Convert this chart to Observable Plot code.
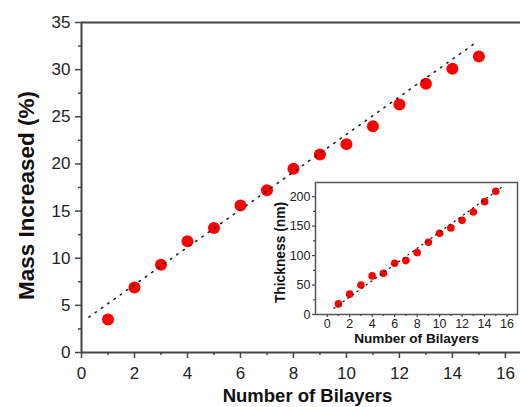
<!DOCTYPE html>
<html><head><meta charset="utf-8">
<script src="https://cdn.jsdelivr.net/npm/d3@7"></script>
<script src="https://cdn.jsdelivr.net/npm/@observablehq/plot@0.6"></script>
<style>
html,body{margin:0;padding:0;background:#fff;}
#wrap{position:relative;width:520px;height:407px;overflow:hidden;background:#fff;}
#main{position:absolute;left:0;top:0;}
#inset{position:absolute;left:262px;top:176px;}
svg{display:block;}
</style></head><body>
<div id="wrap"><div id="main"></div><div id="inset"></div></div>
<script>
// ---- data ----
const bilayers = [1, 2, 3, 4, 5, 6, 7, 8, 9, 10, 11, 12, 13, 14, 15];
const massIncreased = [3.5, 6.9, 9.3, 11.8, 13.2, 15.6, 17.2, 19.5, 21.0, 22.1, 24.0, 26.3, 28.5, 30.1, 31.4];
const thickness = [18, 34.5, 50, 65.5, 70, 87, 91.5, 105, 122.5, 138, 147, 160, 174, 191.5, 209];
const massFitX = [0.28, 14.85];
const massFitY = [3.75, 32.8];
const thickFitX = [0.6, 15.5];
const thickFitY = [10.5, 215.5];
const mainXTicks = [0, 2, 4, 6, 8, 10, 12, 14, 16];
const mainXMinor = [1, 3, 5, 7, 9, 11, 13, 15];
const mainYTicks = [0, 5, 10, 15, 20, 25, 30, 35];
const mainYMinor = [2.5, 7.5, 12.5, 17.5, 22.5, 27.5, 32.5];
const insetXTicks = [0, 2, 4, 6, 8, 10, 12, 14, 16];
const insetXMinor = [1, 3, 5, 7, 9, 11, 13, 15];
const insetYTicks = [0, 50, 100, 150, 200];
const insetYMinor = [25, 75, 125, 175];
const mainXLabel = "Number of Bilayers";
const mainYLabel = "Mass Increased (%)";
const insetXLabel = "Number of Bilayers";
const insetYLabel = "Thickness (nm)";

const FONT = "'Liberation Sans', Arial, Helvetica, sans-serif";
const pts = bilayers.map((b, i) => ({b, m: massIncreased[i], t: thickness[i]}));
const massFit = massFitX.map((x, i) => ({x, y: massFitY[i]}));
const thickFit = thickFitX.map((x, i) => ({x, y: thickFitY[i]}));
const AX = "#444";

const main = Plot.plot({
  width: 520, height: 407,
  marginLeft: 81, marginRight: 0, marginTop: 22, marginBottom: 55,
  style: {fontFamily: FONT, background: "transparent", overflow: "visible"},
  x: {domain: [0, 16.57], label: null},
  y: {domain: [0, 35], label: null},
  marks: [
    Plot.dot(pts, {x: "b", y: "m", r: 6, fill: "#ff0000", stroke: "none"}),
    Plot.line(massFit, {x: "x", y: "y", stroke: "#222", strokeWidth: 1.6, strokeDasharray: "1.4 6.3", strokeLinecap: "round"}),
    Plot.ruleY([0, 35], {stroke: AX, strokeWidth: 2}),
    Plot.ruleX([0], {stroke: AX, strokeWidth: 2}),
    Plot.axisX({ticks: mainXTicks, tickSize: 6, tickPadding: 8, fontSize: 17, stroke: AX, strokeWidth: 1.5, fill: "#222", label: null}),
    Plot.axisX({ticks: mainXMinor, tickSize: 3, tickFormat: () => "", stroke: AX, strokeWidth: 1.5, label: null}),
    Plot.axisY({ticks: mainYTicks, tickSize: 6, tickPadding: 5, fontSize: 17, stroke: AX, strokeWidth: 1.5, fill: "#222", label: null}),
    Plot.axisY({ticks: mainYMinor, tickSize: 3, tickFormat: () => "", stroke: AX, strokeWidth: 1.5, label: null}),
    Plot.text([mainXLabel], {text: d => d, frameAnchor: "bottom", textAnchor: "middle", lineAnchor: "middle", dx: 6.5, dy: 44, fontSize: 18.5, fontWeight: "bold", fill: "#111"}),
    Plot.text([mainYLabel], {text: d => d, frameAnchor: "left", textAnchor: "middle", lineAnchor: "middle", dx: -55, dy: 8, rotate: -90, fontSize: 22.5, fontWeight: "bold", fill: "#111"})
  ]
});
document.getElementById("main").appendChild(main);

const inset = Plot.plot({
  width: 258, height: 172,
  marginLeft: 53, marginRight: 3, marginTop: 6, marginBottom: 34,
  style: {fontFamily: FONT, background: "transparent", overflow: "visible"},
  x: {domain: [-1.04, 16.93], label: null},
  y: {domain: [0, 224], label: null},
  marks: [
    Plot.frame({stroke: "#555", strokeWidth: 1.5}),
    Plot.dot(pts, {x: "b", y: "t", r: 3.8, fill: "#ff0000", stroke: "none"}),
    Plot.line(thickFit, {x: "x", y: "y", stroke: "#222", strokeWidth: 1.3, strokeDasharray: "1.2 4.5", strokeLinecap: "round"}),
    Plot.axisX({ticks: insetXTicks, tickSize: 3, tickPadding: 2, fontSize: 12.5, stroke: AX, strokeWidth: 1.2, fill: "#222", label: null}),
    Plot.axisX({ticks: insetXMinor, tickSize: 2, tickFormat: () => "", stroke: AX, strokeWidth: 1.2, label: null}),
    Plot.axisY({ticks: insetYTicks, tickSize: 3, tickPadding: 2, fontSize: 12.5, stroke: AX, strokeWidth: 1.2, fill: "#222", label: null}),
    Plot.axisY({ticks: insetYMinor, tickSize: 2, tickFormat: () => "", stroke: AX, strokeWidth: 1.2, label: null}),
    Plot.text([insetXLabel], {text: d => d, frameAnchor: "bottom", textAnchor: "middle", lineAnchor: "middle", dx: 0, dy: 24.5, fontSize: 13.6, fontWeight: "bold", fill: "#111"}),
    Plot.text([insetYLabel], {text: d => d, frameAnchor: "left", textAnchor: "middle", lineAnchor: "middle", dx: -35.4, dy: 4, rotate: -90, fontSize: 13.8, fontWeight: "bold", fill: "#111"})
  ]
});
document.getElementById("inset").appendChild(inset);
</script>
</body></html>
